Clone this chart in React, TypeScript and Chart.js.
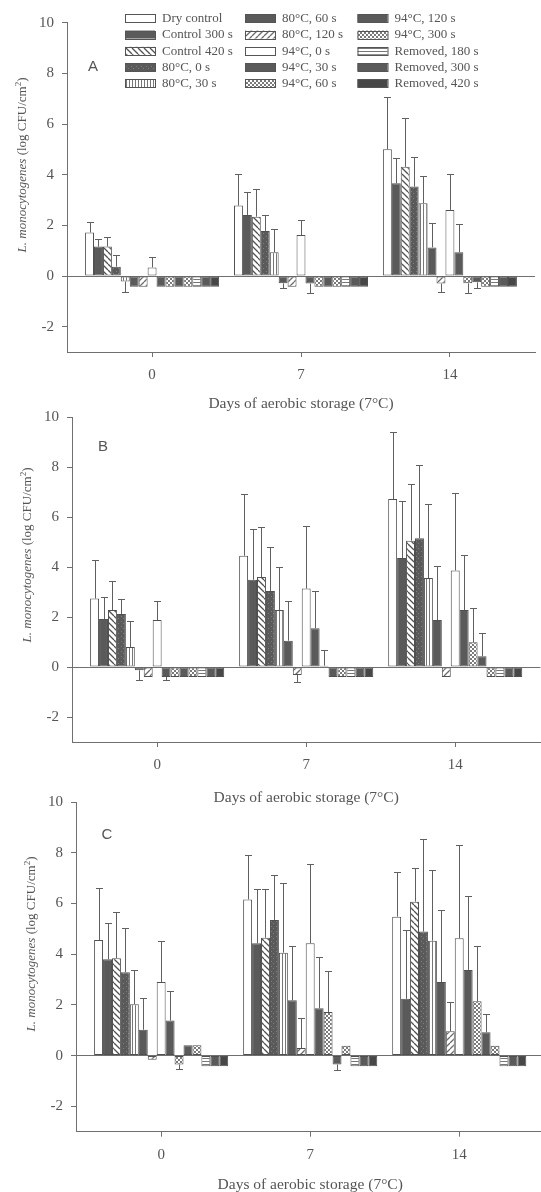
import React, { useEffect, useRef } from 'react';
import { Chart, registerables } from 'chart.js';

Chart.register(...registerables);

// ---------- data ----------
const days = [0, 7, 14];
const xTickValues = [0, 7, 14];
const yTickValues = [-2, 0, 2, 4, 6, 8, 10];
const xAxisTitle = 'Days of aerobic storage (7°C)';
const yAxisTitleItalic = 'L. monocytogenes';
const yAxisTitleRest = ' (log CFU/cm';
const panelLetters = ['A', 'B', 'C'];

const seriesNames = [
  'Dry control', 'Control 300 s', 'Control 420 s', '80°C, 0 s', '80°C, 30 s',
  '80°C, 60 s', '80°C, 120 s', '94°C, 0 s', '94°C, 30 s', '94°C, 60 s',
  '94°C, 120 s', '94°C, 300 s', 'Removed, 180 s', 'Removed, 300 s', 'Removed, 420 s',
];
const seriesFills = [
  'white', 'dark', 'back', 'dotsDark', 'vert',
  'dark', 'fwd', 'white', 'dark', 'check',
  'dark', 'check', 'horiz', 'dark', 'darker',
];

// values per series: [day 0, day 7, day 14]
const panelAValues = [
  [1.72, 2.78, 5.0], [1.16, 2.41, 3.66], [1.16, 2.34, 4.31], [0.37, 1.78, 3.53], [-0.22, 0.94, 2.87],
  [-0.42, -0.29, 1.13], [-0.42, -0.42, -0.3], [0.34, 1.62, 2.61], [-0.42, -0.3, 0.94], [-0.42, -0.42, -0.29],
  [-0.42, -0.42, -0.25], [-0.42, -0.42, -0.42], [-0.42, -0.42, -0.42], [-0.42, -0.42, -0.42], [-0.42, -0.42, -0.42],
];
const panelAErrors = [
  [0.4, 1.23, 2.08], [0.3, 0.89, 1.01], [0.37, 1.09, 1.91], [0.46, 0.63, 1.18], [0.4, 0.92, 1.09],
  [0, 0.2, 0.95], [0, 0, 0.34], [0.4, 0.59, 1.42], [0, 0.38, 1.1], [0, 0, 0.39],
  [0, 0, 0.24], [0, 0, 0], [0, 0, 0], [0, 0, 0], [0, 0, 0],
];
const panelBValues = [
  [2.74, 4.45, 6.72], [1.92, 3.49, 4.36], [2.28, 3.6, 5.05], [2.12, 3.04, 5.15], [0.8, 2.28, 3.56],
  [-0.13, 1.05, 1.88], [-0.4, -0.32, -0.4], [1.88, 3.14, 3.86], [-0.4, 1.55, 2.28], [-0.4, 0.05, 0.99],
  [-0.4, -0.4, 0.43], [-0.4, -0.4, -0.4], [-0.4, -0.4, -0.4], [-0.4, -0.4, -0.4], [-0.4, -0.4, -0.4],
];
const panelBErrors = [
  [1.54, 2.47, 2.7], [0.9, 2.02, 2.27], [1.15, 2.01, 2.28], [0.62, 1.78, 2.93], [1.04, 1.74, 2.98],
  [0.4, 1.6, 2.15], [0, 0.28, 0], [0.76, 2.5, 3.12], [0.13, 1.48, 2.21], [0, 0.65, 1.36],
  [0, 0, 0.95], [0, 0, 0], [0, 0, 0], [0, 0, 0], [0, 0, 0],
];
const panelCValues = [
  [4.56, 6.16, 5.48], [3.8, 4.43, 2.24], [3.84, 4.65, 6.07], [3.29, 5.35, 4.89], [2.03, 4.06, 4.53],
  [1.02, 2.18, 2.9], [-0.16, 0.3, 0.96], [2.9, 4.43, 4.63], [1.38, 1.87, 3.38], [-0.35, 1.72, 2.14],
  [0.41, -0.35, 0.92], [0.41, 0.39, 0.39], [-0.42, -0.42, -0.42], [-0.42, -0.42, -0.42], [-0.42, -0.42, -0.42],
];
const panelCErrors = [
  [2.03, 1.74, 1.77], [1.42, 2.12, 2.71], [1.83, 1.9, 1.31], [1.76, 1.79, 3.67], [1.35, 2.73, 2.78],
  [1.27, 2.14, 2.84], [0, 1.2, 1.14], [1.6, 3.11, 3.67], [1.15, 2.01, 2.91], [0.17, 1.6, 2.2],
  [0, 0.2, 0.73], [0, 0, 0], [0, 0, 0], [0, 0, 0], [0, 0, 0],
];

// ---------- styling ----------
const AXIS = '#707070';
const TEXT = '#555555';
const SERIF = '"Liberation Serif", "Times New Roman", serif';

function makeFill(kind: string): string | CanvasPattern {
  if (kind === 'white') return '#ffffff';
  if (kind === 'dark') return '#5a5a5a';
  if (kind === 'darker') return '#474747';
  const c = document.createElement('canvas');
  let s = 6;
  if (kind === 'vert' || kind === 'horiz') s = 3;
  if (kind === 'check') s = 4;
  if (kind === 'dotsDark') s = 5;
  c.width = s;
  c.height = s;
  const g = c.getContext('2d')!;
  g.fillStyle = '#ffffff';
  g.fillRect(0, 0, s, s);
  if (kind === 'back' || kind === 'fwd') {
    g.strokeStyle = kind === 'back' ? '#505050' : '#6a6a6a';
    g.lineWidth = 1.3;
    g.beginPath();
    for (const k of [-s, 0, s]) {
      if (kind === 'back') {
        g.moveTo(k, 0);
        g.lineTo(k + s, s);
      } else {
        g.moveTo(k, s);
        g.lineTo(k + s, 0);
      }
    }
    g.stroke();
  } else if (kind === 'vert') {
    g.fillStyle = '#777777';
    g.fillRect(0, 0, 1, s);
  } else if (kind === 'horiz') {
    g.fillStyle = '#777777';
    g.fillRect(0, 0, s, 1);
  } else if (kind === 'check') {
    g.fillStyle = '#7a7a7a';
    g.fillRect(0, 0, 2, 2);
    g.fillRect(2, 2, 2, 2);
  } else if (kind === 'dotsDark') {
    g.fillStyle = '#5a5a5a';
    g.fillRect(0, 0, s, s);
    g.fillStyle = '#808080';
    g.fillRect(1, 1, 1, 1);
    g.fillRect(3, 3, 1, 1);
  }
  return g.createPattern(c, 'repeat') || '#888';
}

const errorBarPlugin = {
  id: 'errorBars',
  afterDatasetsDraw(chart: any) {
    const ctx = chart.ctx;
    const yScale = chart.scales.y;
    ctx.save();
    ctx.strokeStyle = '#606060';
    ctx.lineWidth = 1;
    chart.data.datasets.forEach((ds: any, i: number) => {
      const meta = chart.getDatasetMeta(i);
      meta.data.forEach((el: any, j: number) => {
        const err = ds.errors[j];
        if (!err) return;
        const v = ds.data[j].y;
        const end = v >= 0 ? v + err : v - err;
        const x = Math.round(el.x) + 0.5;
        const y0 = el.y;
        const y1 = Math.round(yScale.getPixelForValue(end)) + 0.5;
        ctx.beginPath();
        ctx.moveTo(x, y0);
        ctx.lineTo(x, y1);
        ctx.moveTo(x - 3.5, y1);
        ctx.lineTo(x + 3.5, y1);
        ctx.stroke();
      });
    });
    ctx.restore();
  },
};

const decoPlugin = {
  id: 'deco',
  afterDraw(chart: any, _args: any, opts: any) {
    const ctx = chart.ctx;
    ctx.save();
    ctx.fillStyle = TEXT;
    // panel letter
    ctx.font = `15px "Liberation Sans", Arial, sans-serif`;
    ctx.textAlign = 'center';
    ctx.textBaseline = 'middle';
    ctx.fillText(opts.letter, opts.letterX, opts.letterY);
    // x title
    ctx.font = `15.5px ${SERIF}`;
    const xc = chart.scales.x.getPixelForValue(7);
    ctx.fillText(xAxisTitle, xc, opts.xTitleY);
    // y title
    ctx.translate(opts.yTitleX, opts.yTitleY);
    ctx.rotate(-Math.PI / 2);
    const fItal = `italic 13px ${SERIF}`;
    const fNorm = `13px ${SERIF}`;
    const fSup = `9px ${SERIF}`;
    ctx.font = fItal;
    const w1 = ctx.measureText(yAxisTitleItalic).width;
    ctx.font = fNorm;
    const w2 = ctx.measureText(yAxisTitleRest).width;
    const w4 = ctx.measureText(')').width;
    ctx.font = fSup;
    const w3 = ctx.measureText('2').width;
    let x0 = -(w1 + w2 + w3 + w4) / 2;
    ctx.textAlign = 'left';
    ctx.font = fItal;
    ctx.fillText(yAxisTitleItalic, x0, 0);
    x0 += w1;
    ctx.font = fNorm;
    ctx.fillText(yAxisTitleRest, x0, 0);
    x0 += w2;
    ctx.font = fSup;
    ctx.fillText('2', x0, -4);
    x0 += w3;
    ctx.font = fNorm;
    ctx.fillText(')', x0, 0);
    ctx.restore();

    if (opts.legend) {
      ctx.save();
      const cols = [125, 245, 357.5];
      ctx.font = `13px ${SERIF}`;
      ctx.textAlign = 'left';
      ctx.textBaseline = 'middle';
      chart.data.datasets.forEach((ds: any, i: number) => {
        const col = Math.floor(i / 5);
        const row = i % 5;
        const bx = cols[col];
        const cy = 18.3 + row * 16.25;
        ctx.fillStyle = ds.backgroundColor;
        ctx.fillRect(bx, cy - 4, 30, 8);
        ctx.strokeStyle = '#555';
        ctx.lineWidth = 1;
        ctx.strokeRect(bx + 0.5, Math.round(cy - 4) + 0.5, 30, 8);
        ctx.fillStyle = TEXT;
        ctx.fillText(ds.label, bx + 37, cy + 0.5);
      });
      ctx.restore();
    }
  },
};

type PanelCfg = {
  idx: number;
  values: number[][];
  errors: number[][];
  top: number;
  height: number;
  padTop: number;
  padRight: number;
  xHeight: number;
  yWidth: number;
  xMax: number;
  letterX: number;
  letterY: number;
  yTitleX: number;
  yTitleY: number;
  xTitleY: number;
  legend: boolean;
};

const panels: PanelCfg[] = [
  { idx: 0, values: panelAValues, errors: panelAErrors, top: 0, height: 420, padTop: 22.7, padRight: 6, xHeight: 68, yWidth: 67, xMax: 18, letterX: 93, letterY: 67, yTitleX: 23, yTitleY: 165, xTitleY: 404, legend: true },
  { idx: 1, values: panelBValues, errors: panelBErrors, top: 400, height: 420, padTop: 13, padRight: 0.6, xHeight: 78, yWidth: 72, xMax: 18, letterX: 103, letterY: 47, yTitleX: 28, yTitleY: 155, xTitleY: 398, legend: false },
  { idx: 2, values: panelCValues, errors: panelCErrors, top: 785, height: 407, padTop: 16.7, padRight: 0, xHeight: 60.3, yWidth: 76, xMax: 17.84, letterX: 107, letterY: 50, yTitleX: 32, yTitleY: 159, xTitleY: 400, legend: false },
];

function Panel({ cfg }: { cfg: PanelCfg }) {
  const ref = useRef<HTMLCanvasElement | null>(null);
  useEffect(() => {
    if (!ref.current) return;
    const datasets = seriesNames.map((name, i) => ({
      label: name,
      data: days.map((d, j) => ({ x: d, y: cfg.values[i][j] })),
      errors: cfg.errors[i],
      backgroundColor: makeFill(seriesFills[i]),
      borderColor: '#505050',
      borderWidth: 1,
      borderSkipped: false,
      categoryPercentage: 0.9,
      barPercentage: 1.0,
    }));
    const tickFont = { family: SERIF, size: 15 };
    const chart = new Chart(ref.current, {
      type: 'bar',
      data: { datasets } as any,
      plugins: [errorBarPlugin, decoPlugin],
      options: {
        responsive: false,
        animation: false,
        layout: { padding: { top: cfg.padTop, right: cfg.padRight, left: 0, bottom: 0 } },
        plugins: {
          legend: { display: false },
          tooltip: { enabled: false },
          deco: {
            letter: panelLetters[cfg.idx],
            letterX: cfg.letterX,
            letterY: cfg.letterY,
            yTitleX: cfg.yTitleX,
            yTitleY: cfg.yTitleY,
            xTitleY: cfg.xTitleY,
            legend: cfg.legend,
          },
        } as any,
        scales: {
          x: {
            type: 'linear',
            min: -4,
            max: cfg.xMax,
            offset: false,
            afterBuildTicks: (s: any) => {
              s.ticks = xTickValues.map((v) => ({ value: v }));
            },
            afterFit: (s: any) => {
              s.height = cfg.xHeight;
            },
            grid: { offset: false, drawOnChartArea: false, drawTicks: true, tickLength: 5, color: AXIS, tickColor: AXIS },
            border: { display: true, color: AXIS, width: 1 },
            ticks: { font: tickFont, color: TEXT, padding: 9, maxRotation: 0, callback: (v: any) => String(v) },
          },
          y: {
            type: 'linear',
            min: -3,
            max: 10,
            afterBuildTicks: (s: any) => {
              s.ticks = yTickValues.map((v) => ({ value: v }));
            },
            afterFit: (s: any) => {
              s.width = cfg.yWidth;
            },
            grid: {
              offset: false,
              drawOnChartArea: true,
              drawTicks: true,
              tickLength: 5,
              color: (c: any) => (c.tick && c.tick.value === 0 ? AXIS : 'rgba(0,0,0,0)'),
              tickColor: AXIS,
            },
            border: { display: true, color: AXIS, width: 1 },
            ticks: { font: tickFont, color: TEXT, padding: 8, callback: (v: any) => String(v) },
          },
        },
      } as any,
    });
    return () => chart.destroy();
  }, [cfg]);
  return (
    <canvas
      ref={ref}
      width={541}
      height={cfg.height}
      style={{ position: 'absolute', left: 0, top: cfg.top, width: 541, height: cfg.height }}
    />
  );
}

export default function App() {
  return (
    <div style={{ position: 'absolute', left: 0, top: 0, width: 541, height: 1192, background: '#ffffff', overflow: 'hidden' }}>
      {panels.map((p) => (
        <Panel key={p.idx} cfg={p} />
      ))}
    </div>
  );
}
